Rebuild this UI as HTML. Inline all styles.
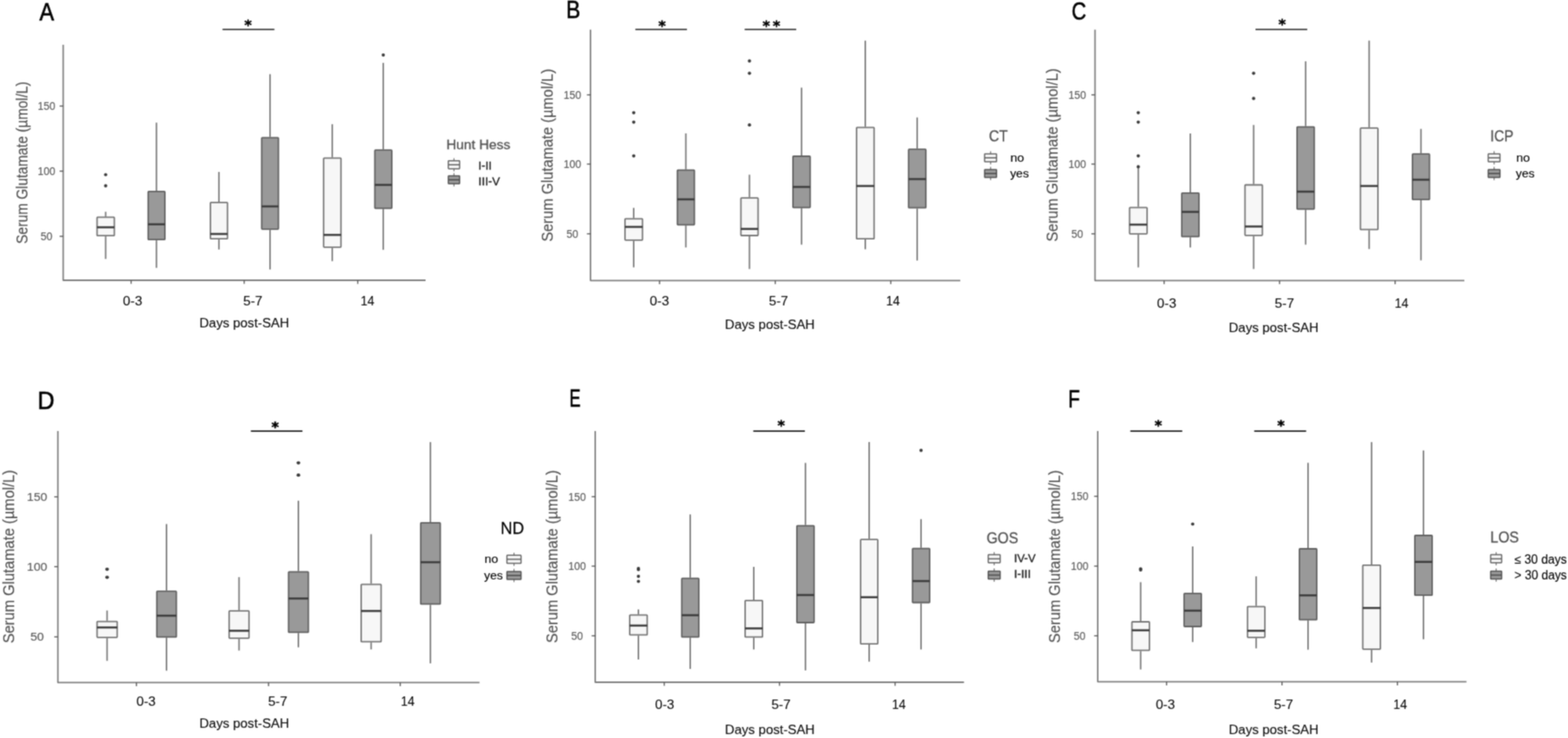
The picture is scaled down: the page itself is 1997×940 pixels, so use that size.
<!DOCTYPE html>
<html lang="en">
<head>
<meta charset="utf-8">
<title>Serum glutamate after SAH - box plots</title>
<style>
html,body{margin:0;padding:0;background:#fff;}
body{width:1997px;height:940px;overflow:hidden;}
svg{display:block;font-family:"Liberation Sans", Arial, Helvetica, sans-serif;}
</style>
</head>
<body>
<svg width="1997" height="940" viewBox="0 0 1997 940" role="img" aria-label="Serum glutamate box plots">
<defs>
<filter id="soft" x="0" y="0" width="1997" height="940" filterUnits="userSpaceOnUse" color-interpolation-filters="sRGB">
<feConvolveMatrix order="3" kernelMatrix="1 2 1 2 6 2 1 2 1" edgeMode="duplicate" preserveAlpha="false"/>
</filter>
</defs>
<g filter="url(#soft)">
<rect x="-10" y="-10" width="2017" height="960" fill="#fff"/>
<g id="panel-A">
<path d="M80.5 57V357H542" fill="none" stroke="#787878" stroke-width="1.8" stroke-linejoin="round"/>
<line x1="75.9" y1="135.1" x2="80.5" y2="135.1" stroke="#555" stroke-width="1.4"/>
<text x="48.09" y="140.03" font-size="14" fill="#5a5a5a" text-anchor="start" textLength="22.43" lengthAdjust="spacingAndGlyphs" stroke="#5a5a5a" stroke-width="0.15">150</text>
<line x1="75.9" y1="218" x2="80.5" y2="218" stroke="#555" stroke-width="1.4"/>
<text x="48.09" y="222.93" font-size="14" fill="#5a5a5a" text-anchor="start" textLength="22.43" lengthAdjust="spacingAndGlyphs" stroke="#5a5a5a" stroke-width="0.15">100</text>
<line x1="75.9" y1="301" x2="80.5" y2="301" stroke="#555" stroke-width="1.4"/>
<text x="51.82" y="305.93" font-size="14" fill="#5a5a5a" text-anchor="start" textLength="14.95" lengthAdjust="spacingAndGlyphs" stroke="#5a5a5a" stroke-width="0.15">50</text>
<line x1="167" y1="357" x2="167" y2="361.6" stroke="#555" stroke-width="1.4"/>
<line x1="311" y1="357" x2="311" y2="361.6" stroke="#555" stroke-width="1.4"/>
<line x1="455.6" y1="357" x2="455.6" y2="361.6" stroke="#555" stroke-width="1.4"/>
<text transform="translate(35 310.48) rotate(-90) scale(1 1.150)" font-size="17.52" fill="#525252" stroke="#525252" stroke-width="0.15">Serum Glutamate (µmol/L)</text>
<line x1="134.55" y1="269.7" x2="134.55" y2="275.8" stroke="#737373" stroke-width="1.8"/>
<line x1="134.55" y1="301.1" x2="134.55" y2="329.8" stroke="#737373" stroke-width="1.8"/>
<rect x="123.6" y="276.7" width="22" height="23.5" rx="0.7" fill="#f7f7f7" stroke="#727272" stroke-width="1.8"/>
<line x1="123.5" y1="289.5" x2="145.7" y2="289.5" stroke="#3c3c3c" stroke-width="2.6"/>
<ellipse cx="134.55" cy="222.5" rx="2.1" ry="2.1" fill="#3c3c3c"/>
<ellipse cx="134.55" cy="236.7" rx="2.1" ry="2.1" fill="#3c3c3c"/>
<line x1="199.3" y1="156.2" x2="199.3" y2="243" stroke="#737373" stroke-width="1.8"/>
<line x1="199.3" y1="306.1" x2="199.3" y2="341.2" stroke="#737373" stroke-width="1.8"/>
<rect x="188.7" y="243.9" width="21.3" height="61.3" rx="0.7" fill="#999999" stroke="#5e5e5e" stroke-width="1.8"/>
<line x1="188.6" y1="285.7" x2="210.1" y2="285.7" stroke="#3c3c3c" stroke-width="2.6"/>
<line x1="278.8" y1="219" x2="278.8" y2="257" stroke="#737373" stroke-width="1.8"/>
<line x1="278.8" y1="305.1" x2="278.8" y2="317.8" stroke="#737373" stroke-width="1.8"/>
<rect x="268" y="257.9" width="21.7" height="46.3" rx="0.7" fill="#f7f7f7" stroke="#727272" stroke-width="1.8"/>
<line x1="267.9" y1="298" x2="289.8" y2="298" stroke="#3c3c3c" stroke-width="2.6"/>
<line x1="343.9" y1="94.5" x2="343.9" y2="174.4" stroke="#737373" stroke-width="1.8"/>
<line x1="343.9" y1="292.7" x2="343.9" y2="343.2" stroke="#737373" stroke-width="1.8"/>
<rect x="333.3" y="175.3" width="21.3" height="116.5" rx="0.7" fill="#999999" stroke="#5e5e5e" stroke-width="1.8"/>
<line x1="333.2" y1="262.9" x2="354.7" y2="262.9" stroke="#3c3c3c" stroke-width="2.6"/>
<line x1="423.2" y1="158.2" x2="423.2" y2="200.5" stroke="#737373" stroke-width="1.8"/>
<line x1="423.2" y1="315.7" x2="423.2" y2="332.6" stroke="#737373" stroke-width="1.8"/>
<rect x="412.2" y="201.4" width="22.1" height="113.4" rx="0.7" fill="#f7f7f7" stroke="#727272" stroke-width="1.8"/>
<line x1="412.1" y1="299.2" x2="434.4" y2="299.2" stroke="#3c3c3c" stroke-width="2.6"/>
<line x1="488.15" y1="80.1" x2="488.15" y2="190.3" stroke="#737373" stroke-width="1.8"/>
<line x1="488.15" y1="266.2" x2="488.15" y2="318.2" stroke="#737373" stroke-width="1.8"/>
<rect x="477.4" y="191.2" width="21.6" height="74.1" rx="0.7" fill="#999999" stroke="#5e5e5e" stroke-width="1.8"/>
<line x1="477.3" y1="235.5" x2="499.1" y2="235.5" stroke="#3c3c3c" stroke-width="2.6"/>
<ellipse cx="488.15" cy="70.1" rx="2.1" ry="2.1" fill="#3c3c3c"/>
<line x1="283.4" y1="37.5" x2="349.5" y2="37.5" stroke="#111" stroke-width="1.7"/>
<text x="316" y="38.3" font-size="18" fill="#000" text-anchor="middle" font-weight="bold" stroke="#000" stroke-width="0.5" font-family="'DejaVu Sans', sans-serif">*</text>
<text x="50.15" y="26.45" font-size="31.42" fill="#000" text-anchor="start" textLength="18.6" lengthAdjust="spacingAndGlyphs" stroke="#000" stroke-width="0.7">A</text>
<text x="156.5" y="389" font-size="17" fill="#0a0a0a" text-anchor="start" textLength="24.6" lengthAdjust="spacingAndGlyphs" stroke="#0a0a0a" stroke-width="0.1">0-3</text>
<text x="309.7" y="389" font-size="17" fill="#0a0a0a" text-anchor="start" textLength="24.6" lengthAdjust="spacingAndGlyphs" stroke="#0a0a0a" stroke-width="0.1">5-7</text>
<text x="459.2" y="389" font-size="17" fill="#0a0a0a" text-anchor="start" textLength="17.6" lengthAdjust="spacingAndGlyphs" stroke="#0a0a0a" stroke-width="0.1">14</text>
<text x="254" y="417.3" font-size="17.2" fill="#0a0a0a" text-anchor="start" textLength="114.3" lengthAdjust="spacingAndGlyphs" stroke="#0a0a0a" stroke-width="0.1">Days post-SAH</text>
<text x="568.4" y="190.3" font-size="17.4" fill="#525252" text-anchor="start" textLength="81.6" lengthAdjust="spacingAndGlyphs" stroke="#525252" stroke-width="0.3">Hunt Hess</text>
<line x1="578.2" y1="201.4" x2="578.2" y2="218.2" stroke="#737373" stroke-width="1.3"/>
<rect x="571" y="204.7" width="14.4" height="10.2" rx="0.6" fill="#f7f7f7" stroke="#606060" stroke-width="1.5"/>
<line x1="571" y1="209.8" x2="585.4" y2="209.8" stroke="#666" stroke-width="1.7"/>
<line x1="578.2" y1="220.6" x2="578.2" y2="237.4" stroke="#737373" stroke-width="1.3"/>
<rect x="571" y="223.9" width="14.4" height="10.2" rx="0.6" fill="#999999" stroke="#505050" stroke-width="1.5"/>
<line x1="571" y1="229" x2="585.4" y2="229" stroke="#505050" stroke-width="1.7"/>
<text x="609.3" y="216.3" font-size="14.6" fill="#1a1a1a" text-anchor="start" textLength="17" lengthAdjust="spacingAndGlyphs" stroke="#1a1a1a" stroke-width="0.3">I-II</text>
<text x="609.3" y="236.4" font-size="14.6" fill="#1a1a1a" text-anchor="start" textLength="27.5" lengthAdjust="spacingAndGlyphs" stroke="#1a1a1a" stroke-width="0.3">III-V</text>
</g>
<g id="panel-B">
<path d="M752.1 37.7V357.3H1223" fill="none" stroke="#787878" stroke-width="1.8" stroke-linejoin="round"/>
<line x1="747.5" y1="120.8" x2="752.1" y2="120.8" stroke="#555" stroke-width="1.4"/>
<text x="717.69" y="125.73" font-size="14" fill="#5a5a5a" text-anchor="start" textLength="22.43" lengthAdjust="spacingAndGlyphs" stroke="#5a5a5a" stroke-width="0.15">150</text>
<line x1="747.5" y1="209" x2="752.1" y2="209" stroke="#555" stroke-width="1.4"/>
<text x="717.69" y="213.93" font-size="14" fill="#5a5a5a" text-anchor="start" textLength="22.43" lengthAdjust="spacingAndGlyphs" stroke="#5a5a5a" stroke-width="0.15">100</text>
<line x1="747.5" y1="297.8" x2="752.1" y2="297.8" stroke="#555" stroke-width="1.4"/>
<text x="721.42" y="302.73" font-size="14" fill="#5a5a5a" text-anchor="start" textLength="14.95" lengthAdjust="spacingAndGlyphs" stroke="#5a5a5a" stroke-width="0.15">50</text>
<line x1="840" y1="357.3" x2="840" y2="361.9" stroke="#555" stroke-width="1.4"/>
<line x1="987.4" y1="357.3" x2="987.4" y2="361.9" stroke="#555" stroke-width="1.4"/>
<line x1="1134.5" y1="357.3" x2="1134.5" y2="361.9" stroke="#555" stroke-width="1.4"/>
<text transform="translate(703.7 307.73) rotate(-90) scale(1 1.094)" font-size="18.67" fill="#525252" stroke="#525252" stroke-width="0.15">Serum Glutamate (µmol/L)</text>
<line x1="807.1" y1="264.7" x2="807.1" y2="277.8" stroke="#737373" stroke-width="1.8"/>
<line x1="807.1" y1="306.7" x2="807.1" y2="340.6" stroke="#737373" stroke-width="1.8"/>
<rect x="796" y="278.7" width="22.3" height="27.1" rx="0.7" fill="#f7f7f7" stroke="#727272" stroke-width="1.8"/>
<line x1="795.9" y1="289" x2="818.4" y2="289" stroke="#3c3c3c" stroke-width="2.6"/>
<ellipse cx="807.1" cy="143.6" rx="2.1" ry="2.1" fill="#3c3c3c"/>
<ellipse cx="807.1" cy="155.6" rx="2.1" ry="2.1" fill="#3c3c3c"/>
<ellipse cx="807.1" cy="198.6" rx="2.1" ry="2.1" fill="#3c3c3c"/>
<line x1="873.5" y1="169.9" x2="873.5" y2="215.7" stroke="#737373" stroke-width="1.8"/>
<line x1="873.5" y1="287.2" x2="873.5" y2="315.2" stroke="#737373" stroke-width="1.8"/>
<rect x="862.7" y="216.6" width="21.7" height="69.7" rx="0.7" fill="#999999" stroke="#5e5e5e" stroke-width="1.8"/>
<line x1="862.6" y1="253.9" x2="884.5" y2="253.9" stroke="#3c3c3c" stroke-width="2.6"/>
<line x1="954.5" y1="222.5" x2="954.5" y2="251.2" stroke="#737373" stroke-width="1.8"/>
<line x1="954.5" y1="300.9" x2="954.5" y2="342.6" stroke="#737373" stroke-width="1.8"/>
<rect x="943.6" y="252.1" width="21.9" height="47.9" rx="0.7" fill="#f7f7f7" stroke="#727272" stroke-width="1.8"/>
<line x1="943.5" y1="291.6" x2="965.6" y2="291.6" stroke="#3c3c3c" stroke-width="2.6"/>
<ellipse cx="954.5" cy="77.7" rx="2.1" ry="2.1" fill="#3c3c3c"/>
<ellipse cx="954.5" cy="93.3" rx="2.1" ry="2.1" fill="#3c3c3c"/>
<ellipse cx="954.5" cy="159.2" rx="2.1" ry="2.1" fill="#3c3c3c"/>
<line x1="1020.8" y1="111.6" x2="1020.8" y2="198.1" stroke="#737373" stroke-width="1.8"/>
<line x1="1020.8" y1="265.2" x2="1020.8" y2="311.6" stroke="#737373" stroke-width="1.8"/>
<rect x="1009.9" y="199" width="21.9" height="65.3" rx="0.7" fill="#999999" stroke="#5e5e5e" stroke-width="1.8"/>
<line x1="1009.8" y1="238.1" x2="1031.9" y2="238.1" stroke="#3c3c3c" stroke-width="2.6"/>
<line x1="1102.05" y1="51.7" x2="1102.05" y2="161.5" stroke="#737373" stroke-width="1.8"/>
<line x1="1102.05" y1="305.1" x2="1102.05" y2="317.6" stroke="#737373" stroke-width="1.8"/>
<rect x="1090.9" y="162.4" width="22.4" height="141.8" rx="0.7" fill="#f7f7f7" stroke="#727272" stroke-width="1.8"/>
<line x1="1090.8" y1="236.9" x2="1113.4" y2="236.9" stroke="#3c3c3c" stroke-width="2.6"/>
<line x1="1168.15" y1="149.6" x2="1168.15" y2="189.3" stroke="#737373" stroke-width="1.8"/>
<line x1="1168.15" y1="265.6" x2="1168.15" y2="331.8" stroke="#737373" stroke-width="1.8"/>
<rect x="1157.2" y="190.2" width="22" height="74.5" rx="0.7" fill="#999999" stroke="#5e5e5e" stroke-width="1.8"/>
<line x1="1157.1" y1="228.1" x2="1179.3" y2="228.1" stroke="#3c3c3c" stroke-width="2.6"/>
<line x1="809.2" y1="37.5" x2="874.9" y2="37.5" stroke="#111" stroke-width="1.7"/>
<text x="843.2" y="38.7" font-size="18" fill="#000" text-anchor="middle" font-weight="bold" stroke="#000" stroke-width="0.5" font-family="'DejaVu Sans', sans-serif">*</text>
<line x1="948.4" y1="37.5" x2="1014.1" y2="37.5" stroke="#111" stroke-width="1.7"/>
<text x="976" y="38.7" font-size="18" fill="#000" text-anchor="middle" font-weight="bold" stroke="#000" stroke-width="0.5" font-family="'DejaVu Sans', sans-serif">*</text>
<text x="989" y="38.7" font-size="18" fill="#000" text-anchor="middle" font-weight="bold" stroke="#000" stroke-width="0.5" font-family="'DejaVu Sans', sans-serif">*</text>
<text x="720.98" y="23.25" font-size="31.42" fill="#000" text-anchor="start" textLength="18.12" lengthAdjust="spacingAndGlyphs" stroke="#000" stroke-width="0.7">B</text>
<text x="827.5" y="389" font-size="17" fill="#0a0a0a" text-anchor="start" textLength="24.6" lengthAdjust="spacingAndGlyphs" stroke="#0a0a0a" stroke-width="0.1">0-3</text>
<text x="979.2" y="389" font-size="17" fill="#0a0a0a" text-anchor="start" textLength="24.6" lengthAdjust="spacingAndGlyphs" stroke="#0a0a0a" stroke-width="0.1">5-7</text>
<text x="1128.5" y="389" font-size="17" fill="#0a0a0a" text-anchor="start" textLength="17.6" lengthAdjust="spacingAndGlyphs" stroke="#0a0a0a" stroke-width="0.1">14</text>
<text x="923.3" y="419" font-size="17.2" fill="#0a0a0a" text-anchor="start" textLength="114.4" lengthAdjust="spacingAndGlyphs" stroke="#0a0a0a" stroke-width="0.1">Days post-SAH</text>
<text x="1259.4" y="179.9" font-size="19.5" fill="#525252" text-anchor="start" textLength="24" lengthAdjust="spacingAndGlyphs" stroke="#525252" stroke-width="0.3">CT</text>
<line x1="1261.6" y1="192.6" x2="1261.6" y2="209.4" stroke="#737373" stroke-width="1.3"/>
<rect x="1254" y="195.9" width="15.2" height="10.2" rx="0.6" fill="#f7f7f7" stroke="#606060" stroke-width="1.5"/>
<line x1="1254" y1="201" x2="1269.2" y2="201" stroke="#666" stroke-width="1.7"/>
<line x1="1261.6" y1="212.6" x2="1261.6" y2="229.4" stroke="#737373" stroke-width="1.3"/>
<rect x="1254" y="215.9" width="15.2" height="10.2" rx="0.6" fill="#999999" stroke="#505050" stroke-width="1.5"/>
<line x1="1254" y1="221" x2="1269.2" y2="221" stroke="#505050" stroke-width="1.7"/>
<text x="1286.8" y="206" font-size="14" fill="#000" text-anchor="start" textLength="17.6" lengthAdjust="spacingAndGlyphs" stroke="#000" stroke-width="0.12">no</text>
<text x="1286.4" y="226" font-size="14" fill="#000" text-anchor="start" textLength="24" lengthAdjust="spacingAndGlyphs" stroke="#000" stroke-width="0.12">yes</text>
</g>
<g id="panel-C">
<path d="M1394.6 37.7V357.3H1865" fill="none" stroke="#787878" stroke-width="1.8" stroke-linejoin="round"/>
<line x1="1390" y1="120.8" x2="1394.6" y2="120.8" stroke="#555" stroke-width="1.4"/>
<text x="1360.69" y="125.73" font-size="14" fill="#5a5a5a" text-anchor="start" textLength="22.43" lengthAdjust="spacingAndGlyphs" stroke="#5a5a5a" stroke-width="0.15">150</text>
<line x1="1390" y1="209" x2="1394.6" y2="209" stroke="#555" stroke-width="1.4"/>
<text x="1360.69" y="213.93" font-size="14" fill="#5a5a5a" text-anchor="start" textLength="22.43" lengthAdjust="spacingAndGlyphs" stroke="#5a5a5a" stroke-width="0.15">100</text>
<line x1="1390" y1="297.8" x2="1394.6" y2="297.8" stroke="#555" stroke-width="1.4"/>
<text x="1364.42" y="302.73" font-size="14" fill="#5a5a5a" text-anchor="start" textLength="14.95" lengthAdjust="spacingAndGlyphs" stroke="#5a5a5a" stroke-width="0.15">50</text>
<line x1="1482.6" y1="357.3" x2="1482.6" y2="361.9" stroke="#555" stroke-width="1.4"/>
<line x1="1629.6" y1="357.3" x2="1629.6" y2="361.9" stroke="#555" stroke-width="1.4"/>
<line x1="1776.8" y1="357.3" x2="1776.8" y2="361.9" stroke="#555" stroke-width="1.4"/>
<text transform="translate(1346.8 307.74) rotate(-90) scale(1 1.091)" font-size="18.72" fill="#525252" stroke="#525252" stroke-width="0.15">Serum Glutamate (µmol/L)</text>
<line x1="1449.7" y1="212.4" x2="1449.7" y2="263.4" stroke="#737373" stroke-width="1.8"/>
<line x1="1449.7" y1="298.7" x2="1449.7" y2="340.6" stroke="#737373" stroke-width="1.8"/>
<rect x="1438.6" y="264.3" width="22.3" height="33.5" rx="0.7" fill="#f7f7f7" stroke="#727272" stroke-width="1.8"/>
<line x1="1438.5" y1="286.1" x2="1461" y2="286.1" stroke="#3c3c3c" stroke-width="2.6"/>
<ellipse cx="1449.7" cy="143.6" rx="2.1" ry="2.1" fill="#3c3c3c"/>
<ellipse cx="1449.7" cy="155.6" rx="2.1" ry="2.1" fill="#3c3c3c"/>
<ellipse cx="1449.7" cy="198.6" rx="2.1" ry="2.1" fill="#3c3c3c"/>
<ellipse cx="1449.7" cy="212.4" rx="2.1" ry="2.1" fill="#3c3c3c"/>
<line x1="1516" y1="169.9" x2="1516" y2="245" stroke="#737373" stroke-width="1.8"/>
<line x1="1516" y1="302.3" x2="1516" y2="315.2" stroke="#737373" stroke-width="1.8"/>
<rect x="1505.1" y="245.9" width="21.9" height="55.5" rx="0.7" fill="#999999" stroke="#5e5e5e" stroke-width="1.8"/>
<line x1="1505" y1="269.9" x2="1527.1" y2="269.9" stroke="#3c3c3c" stroke-width="2.6"/>
<line x1="1596.6" y1="159.2" x2="1596.6" y2="234.6" stroke="#737373" stroke-width="1.8"/>
<line x1="1596.6" y1="300.7" x2="1596.6" y2="342.6" stroke="#737373" stroke-width="1.8"/>
<rect x="1585.6" y="235.5" width="22.1" height="64.3" rx="0.7" fill="#f7f7f7" stroke="#727272" stroke-width="1.8"/>
<line x1="1585.5" y1="288.5" x2="1607.8" y2="288.5" stroke="#3c3c3c" stroke-width="2.6"/>
<ellipse cx="1596.6" cy="93.3" rx="2.1" ry="2.1" fill="#3c3c3c"/>
<ellipse cx="1596.6" cy="125.4" rx="2.1" ry="2.1" fill="#3c3c3c"/>
<line x1="1662.8" y1="78.1" x2="1662.8" y2="160.7" stroke="#737373" stroke-width="1.8"/>
<line x1="1662.8" y1="267.2" x2="1662.8" y2="311.6" stroke="#737373" stroke-width="1.8"/>
<rect x="1651.9" y="161.6" width="21.9" height="104.7" rx="0.7" fill="#999999" stroke="#5e5e5e" stroke-width="1.8"/>
<line x1="1651.8" y1="244.1" x2="1673.9" y2="244.1" stroke="#3c3c3c" stroke-width="2.6"/>
<line x1="1743.7" y1="51.7" x2="1743.7" y2="162.3" stroke="#737373" stroke-width="1.8"/>
<line x1="1743.7" y1="293.3" x2="1743.7" y2="317.2" stroke="#737373" stroke-width="1.8"/>
<rect x="1732.6" y="163.2" width="22.3" height="129.2" rx="0.7" fill="#f7f7f7" stroke="#727272" stroke-width="1.8"/>
<line x1="1732.5" y1="236.9" x2="1755" y2="236.9" stroke="#3c3c3c" stroke-width="2.6"/>
<line x1="1809.7" y1="164.2" x2="1809.7" y2="195.3" stroke="#737373" stroke-width="1.8"/>
<line x1="1809.7" y1="255" x2="1809.7" y2="331.6" stroke="#737373" stroke-width="1.8"/>
<rect x="1798.9" y="196.2" width="21.7" height="57.9" rx="0.7" fill="#999999" stroke="#5e5e5e" stroke-width="1.8"/>
<line x1="1798.8" y1="228.9" x2="1820.7" y2="228.9" stroke="#3c3c3c" stroke-width="2.6"/>
<line x1="1599" y1="37.5" x2="1664.9" y2="37.5" stroke="#111" stroke-width="1.7"/>
<text x="1633" y="37.1" font-size="18" fill="#000" text-anchor="middle" font-weight="bold" stroke="#000" stroke-width="0.5" font-family="'DejaVu Sans', sans-serif">*</text>
<text x="1364.86" y="24.85" font-size="31.42" fill="#000" text-anchor="start" textLength="18.69" lengthAdjust="spacingAndGlyphs" stroke="#000" stroke-width="0.7">C</text>
<text x="1473.5" y="392.3" font-size="17" fill="#0a0a0a" text-anchor="start" textLength="24.6" lengthAdjust="spacingAndGlyphs" stroke="#0a0a0a" stroke-width="0.1">0-3</text>
<text x="1623.5" y="392.3" font-size="17" fill="#0a0a0a" text-anchor="start" textLength="24.6" lengthAdjust="spacingAndGlyphs" stroke="#0a0a0a" stroke-width="0.1">5-7</text>
<text x="1776.2" y="392.3" font-size="17" fill="#0a0a0a" text-anchor="start" textLength="17.6" lengthAdjust="spacingAndGlyphs" stroke="#0a0a0a" stroke-width="0.1">14</text>
<text x="1565" y="423.3" font-size="17.2" fill="#0a0a0a" text-anchor="start" textLength="114.3" lengthAdjust="spacingAndGlyphs" stroke="#0a0a0a" stroke-width="0.1">Days post-SAH</text>
<text x="1898" y="179.9" font-size="19.5" fill="#525252" text-anchor="start" textLength="29.5" lengthAdjust="spacingAndGlyphs" stroke="#525252" stroke-width="0.3">ICP</text>
<line x1="1902.9" y1="192.6" x2="1902.9" y2="209.4" stroke="#737373" stroke-width="1.3"/>
<rect x="1895.4" y="195.9" width="15" height="10.2" rx="0.6" fill="#f7f7f7" stroke="#606060" stroke-width="1.5"/>
<line x1="1895.4" y1="201" x2="1910.4" y2="201" stroke="#666" stroke-width="1.7"/>
<line x1="1902.9" y1="212.6" x2="1902.9" y2="229.4" stroke="#737373" stroke-width="1.3"/>
<rect x="1895.4" y="215.9" width="15" height="10.2" rx="0.6" fill="#999999" stroke="#505050" stroke-width="1.5"/>
<line x1="1895.4" y1="221" x2="1910.4" y2="221" stroke="#505050" stroke-width="1.7"/>
<text x="1931" y="206" font-size="14" fill="#000" text-anchor="start" textLength="17.6" lengthAdjust="spacingAndGlyphs" stroke="#000" stroke-width="0.12">no</text>
<text x="1930.5" y="226" font-size="14" fill="#000" text-anchor="start" textLength="24" lengthAdjust="spacingAndGlyphs" stroke="#000" stroke-width="0.12">yes</text>
</g>
<g id="panel-D">
<path d="M73.7 549.1V869.3H610.7" fill="none" stroke="#787878" stroke-width="1.8" stroke-linejoin="round"/>
<line x1="69.1" y1="632.8" x2="73.7" y2="632.8" stroke="#555" stroke-width="1.4"/>
<text x="34.38" y="637.73" font-size="14" fill="#5a5a5a" text-anchor="start" textLength="25.84" lengthAdjust="spacingAndGlyphs" stroke="#5a5a5a" stroke-width="0.15">150</text>
<line x1="69.1" y1="721.7" x2="73.7" y2="721.7" stroke="#555" stroke-width="1.4"/>
<text x="34.38" y="726.63" font-size="14" fill="#5a5a5a" text-anchor="start" textLength="25.84" lengthAdjust="spacingAndGlyphs" stroke="#5a5a5a" stroke-width="0.15">100</text>
<line x1="69.1" y1="811.2" x2="73.7" y2="811.2" stroke="#555" stroke-width="1.4"/>
<text x="38.69" y="816.13" font-size="14" fill="#5a5a5a" text-anchor="start" textLength="17.22" lengthAdjust="spacingAndGlyphs" stroke="#5a5a5a" stroke-width="0.15">50</text>
<line x1="173.7" y1="869.3" x2="173.7" y2="873.9" stroke="#555" stroke-width="1.4"/>
<line x1="342" y1="869.3" x2="342" y2="873.9" stroke="#555" stroke-width="1.4"/>
<line x1="509.7" y1="869.3" x2="509.7" y2="873.9" stroke="#555" stroke-width="1.4"/>
<text transform="translate(18.4 819.34) rotate(-90) scale(1 1.128)" font-size="18.73" fill="#525252" stroke="#525252" stroke-width="0.15">Serum Glutamate (µmol/L)</text>
<line x1="136.4" y1="777.6" x2="136.4" y2="790.7" stroke="#737373" stroke-width="1.8"/>
<line x1="136.4" y1="812.7" x2="136.4" y2="841.7" stroke="#737373" stroke-width="1.8"/>
<rect x="123.6" y="791.6" width="25.7" height="20.2" rx="0.7" fill="#f7f7f7" stroke="#727272" stroke-width="1.8"/>
<line x1="123.5" y1="799.2" x2="149.4" y2="799.2" stroke="#3c3c3c" stroke-width="2.6"/>
<ellipse cx="136.4" cy="725.1" rx="2.4" ry="2.1" fill="#3c3c3c"/>
<ellipse cx="136.4" cy="735.3" rx="2.4" ry="2.1" fill="#3c3c3c"/>
<line x1="212.1" y1="667.5" x2="212.1" y2="752.2" stroke="#737373" stroke-width="1.8"/>
<line x1="212.1" y1="812.3" x2="212.1" y2="854.3" stroke="#737373" stroke-width="1.8"/>
<rect x="199.7" y="753.1" width="24.9" height="58.3" rx="0.7" fill="#999999" stroke="#5e5e5e" stroke-width="1.8"/>
<line x1="199.6" y1="784.2" x2="224.7" y2="784.2" stroke="#3c3c3c" stroke-width="2.6"/>
<line x1="304.45" y1="735.1" x2="304.45" y2="777.3" stroke="#737373" stroke-width="1.8"/>
<line x1="304.45" y1="813.7" x2="304.45" y2="828.6" stroke="#737373" stroke-width="1.8"/>
<rect x="291.8" y="778.2" width="25.4" height="34.6" rx="0.7" fill="#f7f7f7" stroke="#727272" stroke-width="1.8"/>
<line x1="291.7" y1="803.4" x2="317.3" y2="803.4" stroke="#3c3c3c" stroke-width="2.6"/>
<line x1="380.05" y1="637.8" x2="380.05" y2="727.4" stroke="#737373" stroke-width="1.8"/>
<line x1="380.05" y1="806.3" x2="380.05" y2="824.6" stroke="#737373" stroke-width="1.8"/>
<rect x="367.5" y="728.3" width="25.2" height="77.1" rx="0.7" fill="#999999" stroke="#5e5e5e" stroke-width="1.8"/>
<line x1="367.4" y1="762.3" x2="392.8" y2="762.3" stroke="#3c3c3c" stroke-width="2.6"/>
<ellipse cx="380.05" cy="589.6" rx="2.4" ry="2.1" fill="#3c3c3c"/>
<ellipse cx="380.05" cy="605.2" rx="2.4" ry="2.1" fill="#3c3c3c"/>
<line x1="472.65" y1="680.4" x2="472.65" y2="743.4" stroke="#737373" stroke-width="1.8"/>
<line x1="472.65" y1="818.3" x2="472.65" y2="827.2" stroke="#737373" stroke-width="1.8"/>
<rect x="460" y="744.3" width="25.4" height="73.1" rx="0.7" fill="#f7f7f7" stroke="#727272" stroke-width="1.8"/>
<line x1="459.9" y1="778.2" x2="485.5" y2="778.2" stroke="#3c3c3c" stroke-width="2.6"/>
<line x1="548.2" y1="563.1" x2="548.2" y2="665" stroke="#737373" stroke-width="1.8"/>
<line x1="548.2" y1="770.3" x2="548.2" y2="844.9" stroke="#737373" stroke-width="1.8"/>
<rect x="535.8" y="665.9" width="24.9" height="103.5" rx="0.7" fill="#999999" stroke="#5e5e5e" stroke-width="1.8"/>
<line x1="535.7" y1="716.1" x2="560.8" y2="716.1" stroke="#3c3c3c" stroke-width="2.6"/>
<line x1="319.5" y1="549.1" x2="385.2" y2="549.1" stroke="#111" stroke-width="1.7"/>
<text x="350.5" y="549.8" font-size="18" fill="#000" text-anchor="middle" font-weight="bold" stroke="#000" stroke-width="0.5" font-family="'DejaVu Sans', sans-serif">*</text>
<text x="47.75" y="520.85" font-size="31.42" fill="#000" text-anchor="start" textLength="21.67" lengthAdjust="spacingAndGlyphs" stroke="#000" stroke-width="0.7">D</text>
<text x="173.7" y="899" font-size="17" fill="#0a0a0a" text-anchor="start" textLength="24.6" lengthAdjust="spacingAndGlyphs" stroke="#0a0a0a" stroke-width="0.1">0-3</text>
<text x="341.4" y="899" font-size="17" fill="#0a0a0a" text-anchor="start" textLength="24.6" lengthAdjust="spacingAndGlyphs" stroke="#0a0a0a" stroke-width="0.1">5-7</text>
<text x="510.5" y="899" font-size="17" fill="#0a0a0a" text-anchor="start" textLength="17.6" lengthAdjust="spacingAndGlyphs" stroke="#0a0a0a" stroke-width="0.1">14</text>
<text x="254" y="926.7" font-size="17.2" fill="#0a0a0a" text-anchor="start" textLength="114.3" lengthAdjust="spacingAndGlyphs" stroke="#0a0a0a" stroke-width="0.1">Days post-SAH</text>
<text x="637.5" y="679.6" font-size="22.5" fill="#000" text-anchor="start" textLength="30.1" lengthAdjust="spacingAndGlyphs" stroke="#000" stroke-width="0.3">ND</text>
<line x1="654.6" y1="704" x2="654.6" y2="720.8" stroke="#737373" stroke-width="1.3"/>
<rect x="645.6" y="707.3" width="18" height="10.2" rx="0.6" fill="#f7f7f7" stroke="#606060" stroke-width="1.5"/>
<line x1="645.6" y1="712.4" x2="663.6" y2="712.4" stroke="#666" stroke-width="1.7"/>
<line x1="654.6" y1="724.6" x2="654.6" y2="741.4" stroke="#737373" stroke-width="1.3"/>
<rect x="645.6" y="727.9" width="18" height="10.2" rx="0.6" fill="#999999" stroke="#505050" stroke-width="1.5"/>
<line x1="645.6" y1="733" x2="663.6" y2="733" stroke="#505050" stroke-width="1.7"/>
<text x="617" y="717.3" font-size="14" fill="#000" text-anchor="start" textLength="17.5" lengthAdjust="spacingAndGlyphs" stroke="#000" stroke-width="0.12">no</text>
<text x="616.5" y="737.6" font-size="14" fill="#000" text-anchor="start" textLength="24" lengthAdjust="spacingAndGlyphs" stroke="#000" stroke-width="0.12">yes</text>
</g>
<g id="panel-E">
<path d="M758.1 549.1V869H1227.7" fill="none" stroke="#787878" stroke-width="1.8" stroke-linejoin="round"/>
<line x1="753.5" y1="632.6" x2="758.1" y2="632.6" stroke="#555" stroke-width="1.4"/>
<text x="723.69" y="637.53" font-size="14" fill="#5a5a5a" text-anchor="start" textLength="22.43" lengthAdjust="spacingAndGlyphs" stroke="#5a5a5a" stroke-width="0.15">150</text>
<line x1="753.5" y1="721.1" x2="758.1" y2="721.1" stroke="#555" stroke-width="1.4"/>
<text x="723.69" y="726.03" font-size="14" fill="#5a5a5a" text-anchor="start" textLength="22.43" lengthAdjust="spacingAndGlyphs" stroke="#5a5a5a" stroke-width="0.15">100</text>
<line x1="753.5" y1="809.8" x2="758.1" y2="809.8" stroke="#555" stroke-width="1.4"/>
<text x="727.42" y="814.73" font-size="14" fill="#5a5a5a" text-anchor="start" textLength="14.95" lengthAdjust="spacingAndGlyphs" stroke="#5a5a5a" stroke-width="0.15">50</text>
<line x1="846" y1="869" x2="846" y2="873.6" stroke="#555" stroke-width="1.4"/>
<line x1="992.7" y1="869" x2="992.7" y2="873.6" stroke="#555" stroke-width="1.4"/>
<line x1="1140" y1="869" x2="1140" y2="873.6" stroke="#555" stroke-width="1.4"/>
<text transform="translate(709.9 819.03) rotate(-90) scale(1 1.131)" font-size="18.67" fill="#525252" stroke="#525252" stroke-width="0.15">Serum Glutamate (µmol/L)</text>
<line x1="813.1" y1="776.2" x2="813.1" y2="782.5" stroke="#737373" stroke-width="1.8"/>
<line x1="813.1" y1="809.5" x2="813.1" y2="839.9" stroke="#737373" stroke-width="1.8"/>
<rect x="802" y="783.4" width="22.3" height="25.2" rx="0.7" fill="#f7f7f7" stroke="#727272" stroke-width="1.8"/>
<line x1="801.9" y1="796.8" x2="824.4" y2="796.8" stroke="#3c3c3c" stroke-width="2.6"/>
<ellipse cx="813.1" cy="725.5" rx="2.1" ry="2.1" fill="#3c3c3c"/>
<ellipse cx="813.1" cy="724.1" rx="2.1" ry="2.1" fill="#3c3c3c"/>
<ellipse cx="813.1" cy="734.1" rx="2.1" ry="2.1" fill="#3c3c3c"/>
<ellipse cx="813.1" cy="740.5" rx="2.1" ry="2.1" fill="#3c3c3c"/>
<line x1="879.1" y1="655.3" x2="879.1" y2="735.8" stroke="#737373" stroke-width="1.8"/>
<line x1="879.1" y1="812.3" x2="879.1" y2="851.9" stroke="#737373" stroke-width="1.8"/>
<rect x="868.3" y="736.7" width="21.7" height="74.7" rx="0.7" fill="#999999" stroke="#5e5e5e" stroke-width="1.8"/>
<line x1="868.2" y1="783.6" x2="890.1" y2="783.6" stroke="#3c3c3c" stroke-width="2.6"/>
<line x1="960" y1="722.1" x2="960" y2="764" stroke="#737373" stroke-width="1.8"/>
<line x1="960" y1="812.3" x2="960" y2="827.2" stroke="#737373" stroke-width="1.8"/>
<rect x="949" y="764.9" width="22.1" height="46.5" rx="0.7" fill="#f7f7f7" stroke="#727272" stroke-width="1.8"/>
<line x1="948.9" y1="800.4" x2="971.2" y2="800.4" stroke="#3c3c3c" stroke-width="2.6"/>
<line x1="1025.8" y1="589.6" x2="1025.8" y2="668.7" stroke="#737373" stroke-width="1.8"/>
<line x1="1025.8" y1="793.9" x2="1025.8" y2="853.9" stroke="#737373" stroke-width="1.8"/>
<rect x="1014.9" y="669.6" width="21.9" height="123.4" rx="0.7" fill="#999999" stroke="#5e5e5e" stroke-width="1.8"/>
<line x1="1014.8" y1="757.9" x2="1036.9" y2="757.9" stroke="#3c3c3c" stroke-width="2.6"/>
<line x1="1106.95" y1="563.1" x2="1106.95" y2="686.3" stroke="#737373" stroke-width="1.8"/>
<line x1="1106.95" y1="821.1" x2="1106.95" y2="842.7" stroke="#737373" stroke-width="1.8"/>
<rect x="1096.1" y="687.2" width="21.8" height="133" rx="0.7" fill="#f7f7f7" stroke="#727272" stroke-width="1.8"/>
<line x1="1096" y1="760.7" x2="1118" y2="760.7" stroke="#3c3c3c" stroke-width="2.6"/>
<line x1="1173.05" y1="661.3" x2="1173.05" y2="697.7" stroke="#737373" stroke-width="1.8"/>
<line x1="1173.05" y1="768.4" x2="1173.05" y2="827.2" stroke="#737373" stroke-width="1.8"/>
<rect x="1162.2" y="698.6" width="21.8" height="68.9" rx="0.7" fill="#999999" stroke="#5e5e5e" stroke-width="1.8"/>
<line x1="1162.1" y1="740.1" x2="1184.1" y2="740.1" stroke="#3c3c3c" stroke-width="2.6"/>
<ellipse cx="1173.05" cy="573.7" rx="2.1" ry="2.1" fill="#3c3c3c"/>
<line x1="959.4" y1="549.1" x2="1025.1" y2="549.1" stroke="#111" stroke-width="1.7"/>
<text x="994.9" y="548" font-size="18" fill="#000" text-anchor="middle" font-weight="bold" stroke="#000" stroke-width="0.5" font-family="'DejaVu Sans', sans-serif">*</text>
<text x="725.15" y="517.85" font-size="31.42" fill="#000" text-anchor="start" textLength="14.21" lengthAdjust="spacingAndGlyphs" stroke="#000" stroke-width="0.7">E</text>
<text x="834.2" y="903.3" font-size="17" fill="#0a0a0a" text-anchor="start" textLength="24.6" lengthAdjust="spacingAndGlyphs" stroke="#0a0a0a" stroke-width="0.1">0-3</text>
<text x="982.4" y="903.3" font-size="17" fill="#0a0a0a" text-anchor="start" textLength="24.6" lengthAdjust="spacingAndGlyphs" stroke="#0a0a0a" stroke-width="0.1">5-7</text>
<text x="1136" y="903.3" font-size="17" fill="#0a0a0a" text-anchor="start" textLength="17.6" lengthAdjust="spacingAndGlyphs" stroke="#0a0a0a" stroke-width="0.1">14</text>
<text x="923.3" y="935" font-size="17.2" fill="#0a0a0a" text-anchor="start" textLength="114.4" lengthAdjust="spacingAndGlyphs" stroke="#0a0a0a" stroke-width="0.1">Days post-SAH</text>
<text x="1256.4" y="691.6" font-size="19.5" fill="#525252" text-anchor="start" textLength="40.4" lengthAdjust="spacingAndGlyphs" stroke="#525252" stroke-width="0.3">GOS</text>
<line x1="1266.2" y1="703.3" x2="1266.2" y2="720.1" stroke="#737373" stroke-width="1.3"/>
<rect x="1258.6" y="706.6" width="15.2" height="10.2" rx="0.6" fill="#f7f7f7" stroke="#606060" stroke-width="1.5"/>
<line x1="1258.6" y1="711.7" x2="1273.8" y2="711.7" stroke="#666" stroke-width="1.7"/>
<line x1="1266.2" y1="724.1" x2="1266.2" y2="740.9" stroke="#737373" stroke-width="1.3"/>
<rect x="1258.6" y="727.4" width="15.2" height="10.2" rx="0.6" fill="#999999" stroke="#505050" stroke-width="1.5"/>
<line x1="1258.6" y1="732.5" x2="1273.8" y2="732.5" stroke="#505050" stroke-width="1.7"/>
<text x="1291.4" y="715.7" font-size="14.8" fill="#1a1a1a" text-anchor="start" textLength="27.5" lengthAdjust="spacingAndGlyphs" stroke="#1a1a1a" stroke-width="0.3">IV-V</text>
<text x="1291.4" y="736.1" font-size="14.8" fill="#1a1a1a" text-anchor="start" textLength="21.4" lengthAdjust="spacingAndGlyphs" stroke="#1a1a1a" stroke-width="0.3">I-III</text>
</g>
<g id="panel-F">
<path d="M1398.1 549.1V868.3H1867.7" fill="none" stroke="#787878" stroke-width="1.8" stroke-linejoin="round"/>
<line x1="1393.5" y1="632.2" x2="1398.1" y2="632.2" stroke="#555" stroke-width="1.4"/>
<text x="1363.69" y="637.13" font-size="14" fill="#5a5a5a" text-anchor="start" textLength="22.43" lengthAdjust="spacingAndGlyphs" stroke="#5a5a5a" stroke-width="0.15">150</text>
<line x1="1393.5" y1="721.1" x2="1398.1" y2="721.1" stroke="#555" stroke-width="1.4"/>
<text x="1363.69" y="726.03" font-size="14" fill="#5a5a5a" text-anchor="start" textLength="22.43" lengthAdjust="spacingAndGlyphs" stroke="#5a5a5a" stroke-width="0.15">100</text>
<line x1="1393.5" y1="809.8" x2="1398.1" y2="809.8" stroke="#555" stroke-width="1.4"/>
<text x="1367.42" y="814.73" font-size="14" fill="#5a5a5a" text-anchor="start" textLength="14.95" lengthAdjust="spacingAndGlyphs" stroke="#5a5a5a" stroke-width="0.15">50</text>
<line x1="1485.7" y1="868.3" x2="1485.7" y2="872.9" stroke="#555" stroke-width="1.4"/>
<line x1="1632.7" y1="868.3" x2="1632.7" y2="872.9" stroke="#555" stroke-width="1.4"/>
<line x1="1779.7" y1="868.3" x2="1779.7" y2="872.9" stroke="#555" stroke-width="1.4"/>
<text transform="translate(1349.9 819.03) rotate(-90) scale(1 1.131)" font-size="18.67" fill="#525252" stroke="#525252" stroke-width="0.15">Serum Glutamate (µmol/L)</text>
<line x1="1452.7" y1="741.5" x2="1452.7" y2="791.1" stroke="#737373" stroke-width="1.8"/>
<line x1="1452.7" y1="829.3" x2="1452.7" y2="852.7" stroke="#737373" stroke-width="1.8"/>
<rect x="1441.6" y="792" width="22.3" height="36.4" rx="0.7" fill="#f7f7f7" stroke="#727272" stroke-width="1.8"/>
<line x1="1441.5" y1="802.8" x2="1464" y2="802.8" stroke="#3c3c3c" stroke-width="2.6"/>
<ellipse cx="1452.7" cy="725.9" rx="2.1" ry="2.1" fill="#3c3c3c"/>
<ellipse cx="1452.7" cy="724.5" rx="2.1" ry="2.1" fill="#3c3c3c"/>
<line x1="1519" y1="696" x2="1519" y2="755" stroke="#737373" stroke-width="1.8"/>
<line x1="1519" y1="798.9" x2="1519" y2="817.8" stroke="#737373" stroke-width="1.8"/>
<rect x="1508.1" y="755.9" width="21.9" height="42.1" rx="0.7" fill="#999999" stroke="#5e5e5e" stroke-width="1.8"/>
<line x1="1508" y1="777.8" x2="1530.1" y2="777.8" stroke="#3c3c3c" stroke-width="2.6"/>
<ellipse cx="1519" cy="667.5" rx="2.1" ry="2.1" fill="#3c3c3c"/>
<line x1="1599.8" y1="734.1" x2="1599.8" y2="771.7" stroke="#737373" stroke-width="1.8"/>
<line x1="1599.8" y1="812.7" x2="1599.8" y2="825.8" stroke="#737373" stroke-width="1.8"/>
<rect x="1588.8" y="772.6" width="22.1" height="39.2" rx="0.7" fill="#f7f7f7" stroke="#727272" stroke-width="1.8"/>
<line x1="1588.7" y1="803.4" x2="1611" y2="803.4" stroke="#3c3c3c" stroke-width="2.6"/>
<line x1="1665.9" y1="589.6" x2="1665.9" y2="698.1" stroke="#737373" stroke-width="1.8"/>
<line x1="1665.9" y1="790.3" x2="1665.9" y2="827.6" stroke="#737373" stroke-width="1.8"/>
<rect x="1654.9" y="699" width="22.1" height="90.4" rx="0.7" fill="#999999" stroke="#5e5e5e" stroke-width="1.8"/>
<line x1="1654.8" y1="758.3" x2="1677.1" y2="758.3" stroke="#3c3c3c" stroke-width="2.6"/>
<line x1="1746.8" y1="563.1" x2="1746.8" y2="719" stroke="#737373" stroke-width="1.8"/>
<line x1="1746.8" y1="827.7" x2="1746.8" y2="843.9" stroke="#737373" stroke-width="1.8"/>
<rect x="1735.6" y="719.9" width="22.5" height="106.9" rx="0.7" fill="#f7f7f7" stroke="#727272" stroke-width="1.8"/>
<line x1="1735.5" y1="774.4" x2="1758.2" y2="774.4" stroke="#3c3c3c" stroke-width="2.6"/>
<line x1="1812.9" y1="573.7" x2="1812.9" y2="681.1" stroke="#737373" stroke-width="1.8"/>
<line x1="1812.9" y1="759" x2="1812.9" y2="814.2" stroke="#737373" stroke-width="1.8"/>
<rect x="1801.9" y="682" width="22.1" height="76.1" rx="0.7" fill="#999999" stroke="#5e5e5e" stroke-width="1.8"/>
<line x1="1801.8" y1="715.7" x2="1824.1" y2="715.7" stroke="#3c3c3c" stroke-width="2.6"/>
<line x1="1439.6" y1="549.1" x2="1505.7" y2="549.1" stroke="#111" stroke-width="1.7"/>
<text x="1475.2" y="548" font-size="18" fill="#000" text-anchor="middle" font-weight="bold" stroke="#000" stroke-width="0.5" font-family="'DejaVu Sans', sans-serif">*</text>
<line x1="1597.4" y1="549.1" x2="1663.5" y2="549.1" stroke="#111" stroke-width="1.7"/>
<text x="1631.5" y="548" font-size="18" fill="#000" text-anchor="middle" font-weight="bold" stroke="#000" stroke-width="0.5" font-family="'DejaVu Sans', sans-serif">*</text>
<text x="1360.61" y="518.85" font-size="31.42" fill="#000" text-anchor="start" textLength="14.84" lengthAdjust="spacingAndGlyphs" stroke="#000" stroke-width="0.7">F</text>
<text x="1471.9" y="903.3" font-size="17" fill="#0a0a0a" text-anchor="start" textLength="24.6" lengthAdjust="spacingAndGlyphs" stroke="#0a0a0a" stroke-width="0.1">0-3</text>
<text x="1622.4" y="903.3" font-size="17" fill="#0a0a0a" text-anchor="start" textLength="24.6" lengthAdjust="spacingAndGlyphs" stroke="#0a0a0a" stroke-width="0.1">5-7</text>
<text x="1774.4" y="903.3" font-size="17" fill="#0a0a0a" text-anchor="start" textLength="17.6" lengthAdjust="spacingAndGlyphs" stroke="#0a0a0a" stroke-width="0.1">14</text>
<text x="1565" y="935" font-size="17.2" fill="#0a0a0a" text-anchor="start" textLength="114.3" lengthAdjust="spacingAndGlyphs" stroke="#0a0a0a" stroke-width="0.1">Days post-SAH</text>
<text x="1898" y="691" font-size="19.5" fill="#525252" text-anchor="start" textLength="36.5" lengthAdjust="spacingAndGlyphs" stroke="#525252" stroke-width="0.3">LOS</text>
<line x1="1905.5" y1="703.3" x2="1905.5" y2="720.1" stroke="#737373" stroke-width="1.3"/>
<rect x="1898.5" y="706.6" width="14" height="10.2" rx="0.6" fill="#f7f7f7" stroke="#606060" stroke-width="1.5"/>
<line x1="1898.5" y1="711.7" x2="1912.5" y2="711.7" stroke="#666" stroke-width="1.7"/>
<line x1="1905.5" y1="724.1" x2="1905.5" y2="740.9" stroke="#737373" stroke-width="1.3"/>
<rect x="1898.5" y="727.4" width="14" height="10.2" rx="0.6" fill="#999999" stroke="#505050" stroke-width="1.5"/>
<line x1="1898.5" y1="732.5" x2="1912.5" y2="732.5" stroke="#505050" stroke-width="1.7"/>
<text x="1928.7" y="718" font-size="15.6" fill="#000" text-anchor="start" textLength="66.8" lengthAdjust="spacingAndGlyphs" stroke="#000" stroke-width="0.12">≤ 30 days</text>
<text x="1928.7" y="738.4" font-size="15.6" fill="#000" text-anchor="start" textLength="66.8" lengthAdjust="spacingAndGlyphs" stroke="#000" stroke-width="0.12">&gt; 30 days</text>
</g>
</g>
</svg>
</body>
</html>
